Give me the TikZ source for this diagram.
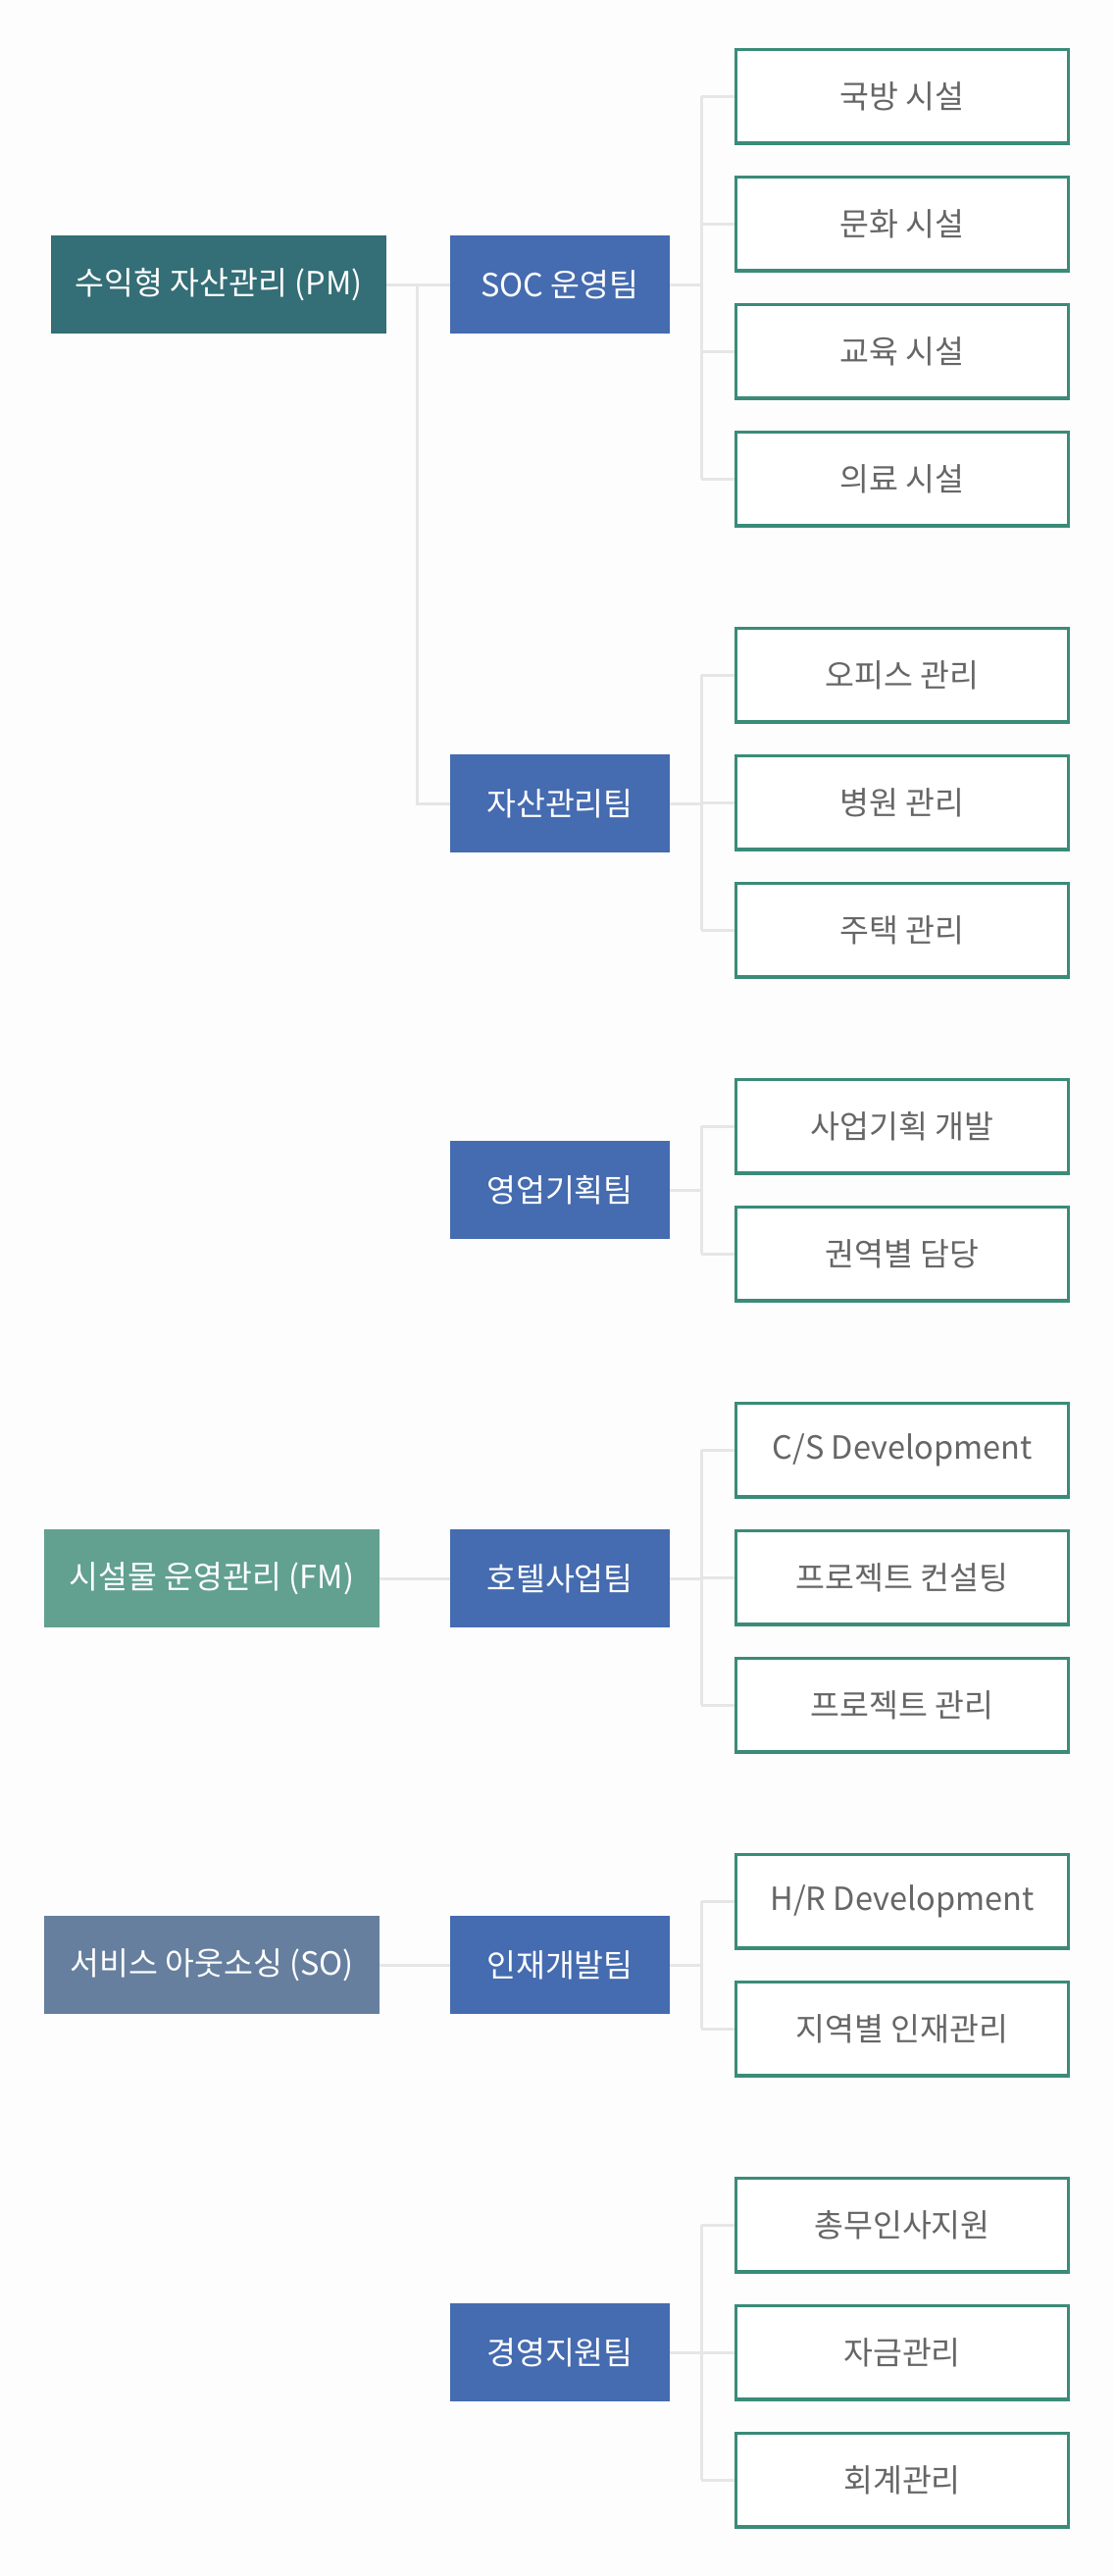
\documentclass[tikz,border=0pt]{standalone}
\usepackage{fontspec}
\setmainfont{Noto Sans CJK KR}
\usetikzlibrary{backgrounds}
\definecolor{bgc}{HTML}{FDFDFD}
\definecolor{pmc}{HTML}{346E76}
\definecolor{fmc}{HTML}{62A090}
\definecolor{soc}{HTML}{667F9E}
\definecolor{teamc}{HTML}{456BB0}
\definecolor{leafc}{HTML}{3A8B78}
\definecolor{leaftext}{HTML}{666666}
\definecolor{linec}{HTML}{E6E6E6}
\tikzset{
  divbox/.style={rectangle, inner sep=0pt, minimum width=342pt, minimum height=100pt, text=white, font=\fontsize{32.5}{38}\selectfont},
  teambox/.style={rectangle, fill=teamc, inner sep=0pt, minimum width=224pt, minimum height=100pt, text=white, font=\fontsize{32.5}{38}\selectfont},
  leafbox/.style={rectangle, draw=leafc, line width=3.3pt, fill=white, inner sep=0pt, minimum width=338.7pt, minimum height=95.7pt, text=leaftext, font=\fontsize{32.5}{38}\selectfont},
  conn/.style={draw=linec, line width=3pt}
}
\begin{document}
\begin{tikzpicture}[x=1pt,y=-1pt]
\useasboundingbox (0,0) rectangle (1136,2626);
% divisions
\node[divbox, fill=pmc] (pm) at (223,290) {수익형 자산관리 (PM)};
\node[divbox, fill=fmc] (fm) at (216,1609) {시설물 운영관리 (FM)};
\node[divbox, fill=soc] (so) at (216,2003) {서비스 아웃소싱 (SO)};
% teams
\node[teambox] (t1) at (571,290) {SOC 운영팀};
\node[teambox] (t2) at (571,819) {자산관리팀};
\node[teambox] (t3) at (571,1213) {영업기획팀};
\node[teambox] (t4) at (571,1609) {호텔사업팀};
\node[teambox] (t5) at (571,2003) {인재개발팀};
\node[teambox] (t6) at (571,2398) {경영지원팀};
% leaves
\node[leafbox] (l11) at (920,98) {국방 시설};
\node[leafbox] (l12) at (920,228) {문화 시설};
\node[leafbox] (l13) at (920,358) {교육 시설};
\node[leafbox] (l14) at (920,488) {의료 시설};
\node[leafbox] (l21) at (920,688) {오피스 관리};
\node[leafbox] (l22) at (920,818) {병원 관리};
\node[leafbox] (l23) at (920,948) {주택 관리};
\node[leafbox] (l31) at (920,1148) {사업기획 개발};
\node[leafbox] (l32) at (920,1278) {권역별 담당};
\node[leafbox] (l41) at (920,1478) {C/S Development};
\node[leafbox] (l42) at (920,1608) {프로젝트 컨설팅};
\node[leafbox] (l43) at (920,1738) {프로젝트 관리};
\node[leafbox] (l51) at (920,1938) {H/R Development};
\node[leafbox] (l52) at (920,2068) {지역별 인재관리};
\node[leafbox] (l61) at (920,2268) {총무인사지원};
\node[leafbox] (l62) at (920,2398) {자금관리};
\node[leafbox] (l63) at (920,2528) {회계관리};
% connectors
\begin{scope}[on background layer]
\fill[bgc] (0,0) rectangle (1136,2626);
\coordinate (pmv) at (425,290);
\draw[conn] (pm.east) -- (t1.west);
\draw[conn] (pmv) |- (t2.west);
\draw[conn] (fm.east) -- (t4.west);
\draw[conn] (so.east) -- (t5.west);
% trunks
\foreach \t/\a/\b/\list in {t1/l11/l14/{l11,l12,l13,l14}, t2/l21/l23/{l21,l22,l23}, t3/l31/l32/{l31,l32}, t4/l41/l43/{l41,l42,l43}, t5/l51/l52/{l51,l52}, t6/l61/l63/{l61,l62,l63}}{
  \draw[conn] (\t.east) -- (715,0 |- \t.east);
  \draw[conn] (715,0 |- \a.west) -- (715,0 |- \b.west);
  \foreach \l in \list { \draw[conn] (715,0 |- \l.west) -- (\l.west); }
}
\end{scope}
\end{tikzpicture}
\end{document}
